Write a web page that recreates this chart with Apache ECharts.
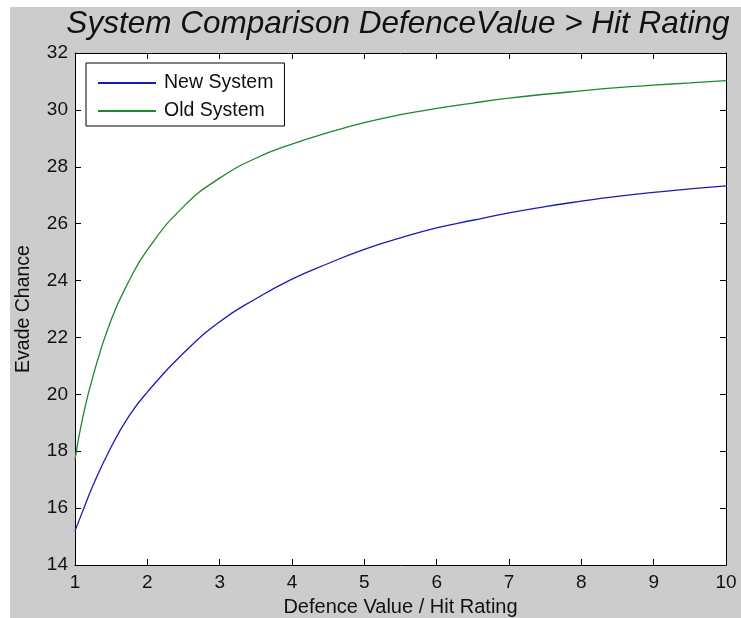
<!DOCTYPE html>
<html>
<head>
<meta charset="utf-8">
<script src="https://cdn.jsdelivr.net/npm/echarts@6/dist/echarts.min.js"></script>
<style>
  html, body { margin: 0; padding: 0; background: #fff; }
  #chart { position: absolute; left: 10px; top: 7px; width: 731px; height: 611px; }
</style>
</head>
<body>
<div id="chart"></div>
<script>
// values
const xValues = [1, 1.1, 1.25, 1.5, 1.75, 2, 2.5, 3, 3.5, 4, 4.5, 5, 5.5, 6, 6.5, 7, 7.5, 8, 8.5, 9, 9.5, 10];
const newSystem = [15.2, 15.85, 16.8, 18.15, 19.25, 20.08, 21.45, 22.55, 23.36, 24.05, 24.6, 25.1, 25.5, 25.85, 26.12, 26.38, 26.6, 26.79, 26.96, 27.1, 27.22, 27.33];
const oldSystem = [17.7, 19.1, 20.65, 22.62, 24.0, 25.08, 26.6, 27.6, 28.3, 28.8, 29.2, 29.55, 29.83, 30.05, 30.24, 30.41, 30.55, 30.67, 30.78, 30.87, 30.95, 31.03];
const xTicks = [1, 10, 1];   // min, max, interval
const yTicks = [14, 32, 2];

const font = 'Liberation Sans, Arial, sans-serif';
const pair = (ys) => xValues.map((x, i) => [x, ys[i]]);

const axisCommon = {
    axisLine: { show: true, lineStyle: { color: '#000', width: 1 } },
    axisTick: { show: true, inside: true, length: 6, lineStyle: { color: '#000' } },
    splitLine: { show: false }
};

const chart = echarts.init(document.getElementById('chart'));
chart.setOption({
    backgroundColor: '#cccccc',
    animation: false,
    textStyle: { fontFamily: font },
    graphic: [{
        type: 'text', x: 388, y: 1,
        style: {
            text: 'System Comparison DefenceValue > Hit Rating',
            fontSize: 31.5, fontStyle: 'italic', fontFamily: font,
            fill: '#111', align: 'center', verticalAlign: 'top'
        }
    }],
    grid: {
        left: 65, top: 46, width: 651, height: 512,
        outerBoundsMode: 'none',
        show: true, backgroundColor: '#fff', borderWidth: 0
    },
    legend: {
        left: 76, top: 56, orient: 'vertical',
        backgroundColor: '#fff', borderColor: '#000', borderWidth: 1,
        padding: [10, 11, 5, 11],
        itemWidth: 58, itemHeight: 14, itemGap: 8,
        itemStyle: { opacity: 0 },
        textStyle: { fontSize: 19.5, color: '#111', padding: [0, 0, 0, 3] },
        data: ['New System', 'Old System']
    },
    xAxis: [
        {
            ...axisCommon, type: 'value', position: 'bottom',
            min: xTicks[0], max: xTicks[1], interval: xTicks[2],
            axisLabel: { color: '#111', fontSize: 19, margin: 8 },
            name: 'Defence Value / Hit Rating', nameLocation: 'middle', nameGap: 32,
            nameTextStyle: { color: '#111', fontSize: 20 }
        },
        {
            ...axisCommon, type: 'value', position: 'top',
            min: xTicks[0], max: xTicks[1], interval: xTicks[2],
            axisLabel: { show: false }
        }
    ],
    yAxis: [
        {
            ...axisCommon, type: 'value', position: 'left',
            min: yTicks[0], max: yTicks[1], interval: yTicks[2],
            axisLabel: { color: '#111', fontSize: 19, margin: 7 },
            name: 'Evade Chance', nameLocation: 'middle', nameGap: 41,
            nameTextStyle: { color: '#111', fontSize: 19.5 }
        },
        {
            ...axisCommon, type: 'value', position: 'right',
            min: yTicks[0], max: yTicks[1], interval: yTicks[2],
            axisLabel: { show: false }
        }
    ],
    series: [
        {
            name: 'New System', type: 'line', data: pair(newSystem),
            smooth: true, symbol: 'none',
            lineStyle: { color: '#1a1ab4', width: 1.3 }, itemStyle: { color: '#1a1ab4' }
        },
        {
            name: 'Old System', type: 'line', data: pair(oldSystem),
            smooth: true, symbol: 'none',
            lineStyle: { color: '#1a8a2a', width: 1.3 }, itemStyle: { color: '#1a8a2a' }
        }
    ]
});
</script>
</body>
</html>
